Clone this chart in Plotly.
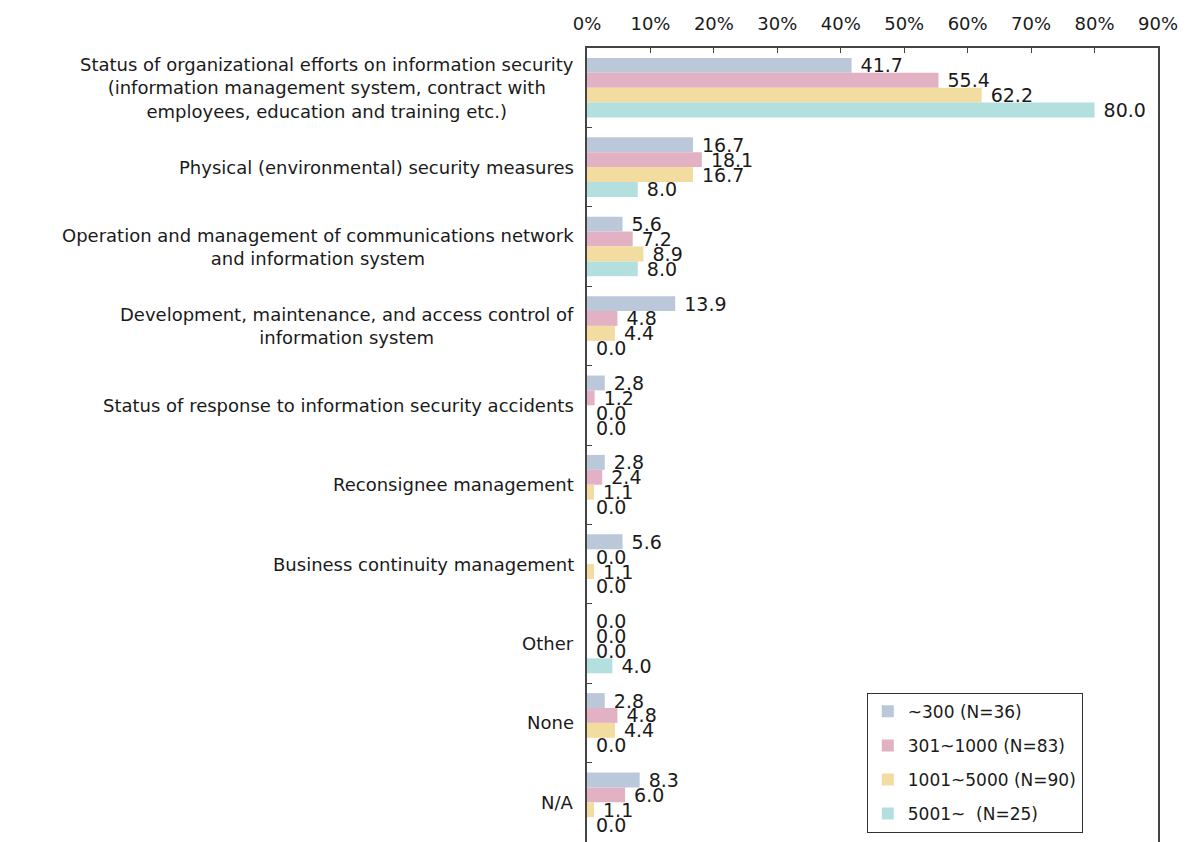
import plotly.graph_objects as go

categories = [
    "Status of organizational efforts on information security<br>(information management system, contract with<br>employees, education and training etc.)",
    "Physical (environmental) security measures",
    "Operation and management of communications network<br>and information system",
    "Development, maintenance, and access control of<br>information system",
    "Status of response to information security accidents",
    "Reconsignee management",
    "Business continuity management",
    "Other",
    "None",
    "N/A",
]

series_names = ["~300 (N=36)", "301~1000 (N=83)", "1001~5000 (N=90)", "5001~  (N=25)"]

vals_300 = [41.7, 16.7, 5.6, 13.9, 2.8, 2.8, 5.6, 0.0, 2.8, 8.3]
vals_1000 = [55.4, 18.1, 7.2, 4.8, 1.2, 2.4, 0.0, 0.0, 4.8, 6.0]
vals_5000 = [62.2, 16.7, 8.9, 4.4, 0.0, 1.1, 1.1, 0.0, 4.4, 1.1]
vals_5001 = [80.0, 8.0, 8.0, 0.0, 0.0, 0.0, 0.0, 4.0, 0.0, 0.0]

tick_vals = [0, 10, 20, 30, 40, 50, 60, 70, 80, 90]
tick_text = ["0%", "10%", "20%", "30%", "40%", "50%", "60%", "70%", "80%", "90%"]

colors = ["#bac8d9", "#e2b1c3", "#f2dc9f", "#b3e0df"]
font_family = "DejaVu Sans, Verdana, sans-serif"
text_color = "#1a1a1a"

fig = go.Figure()
for i, (name, vals, col) in enumerate(zip(series_names, [vals_300, vals_1000, vals_5000, vals_5001], colors)):
    fig.add_trace(go.Bar(
        y=categories,
        x=vals,
        name=name,
        legendgroup=f"g{i}",
        orientation="h",
        marker=dict(color=col, line=dict(width=0)),
        text=[f" {v:.1f}" for v in vals],
        textposition="outside",
        constraintext="none",
        cliponaxis=False,
        textfont=dict(family=font_family, size=19, color=text_color),
    ))

# category labels, centered line-by-line, placed left of the plot area
for cat in categories:
    fig.add_annotation(
        x=0, xref="paper", y=cat, yref="y",
        text=cat, showarrow=False,
        xanchor="right", yanchor="middle", align="center",
        xshift=-11,
        font=dict(family=font_family, size=18, color=text_color),
    )

fig.update_layout(
    width=1192, height=842,
    margin=dict(l=587, r=34, t=48, b=0),
    paper_bgcolor="white",
    plot_bgcolor="white",
    barmode="group",
    bargap=0.25,
    bargroupgap=0,
    font=dict(family=font_family, size=16, color=text_color),
    xaxis=dict(
        side="top",
        range=[0, 90],
        tickvals=tick_vals,
        ticktext=tick_text,
        ticks="inside",
        ticklen=5,
        tickcolor="#444",
        showgrid=False,
        zeroline=False,
        showline=True,
        linecolor="#444",
        linewidth=2,
        mirror=False,
        ticklabelstandoff=9,
        tickfont=dict(family=font_family, size=18, color=text_color),
    ),
    yaxis=dict(
        autorange="reversed",
        showticklabels=False,
        ticks="inside",
        tickson="boundaries",
        ticklen=5,
        tickcolor="#444",
        showgrid=False,
        showline=True,
        linecolor="#444",
        linewidth=2,
        mirror=True,
    ),
    legend=dict(
        x=0.49, xanchor="left",
        y=0.188, yanchor="top",
        xref="paper", yref="paper",
        bordercolor="#333",
        borderwidth=1,
        bgcolor="white",
        font=dict(family=font_family, size=17, color=text_color),
        tracegroupgap=9,
        itemsizing="constant",
        itemwidth=30,
    ),
)

fig.write_html("out.html")
